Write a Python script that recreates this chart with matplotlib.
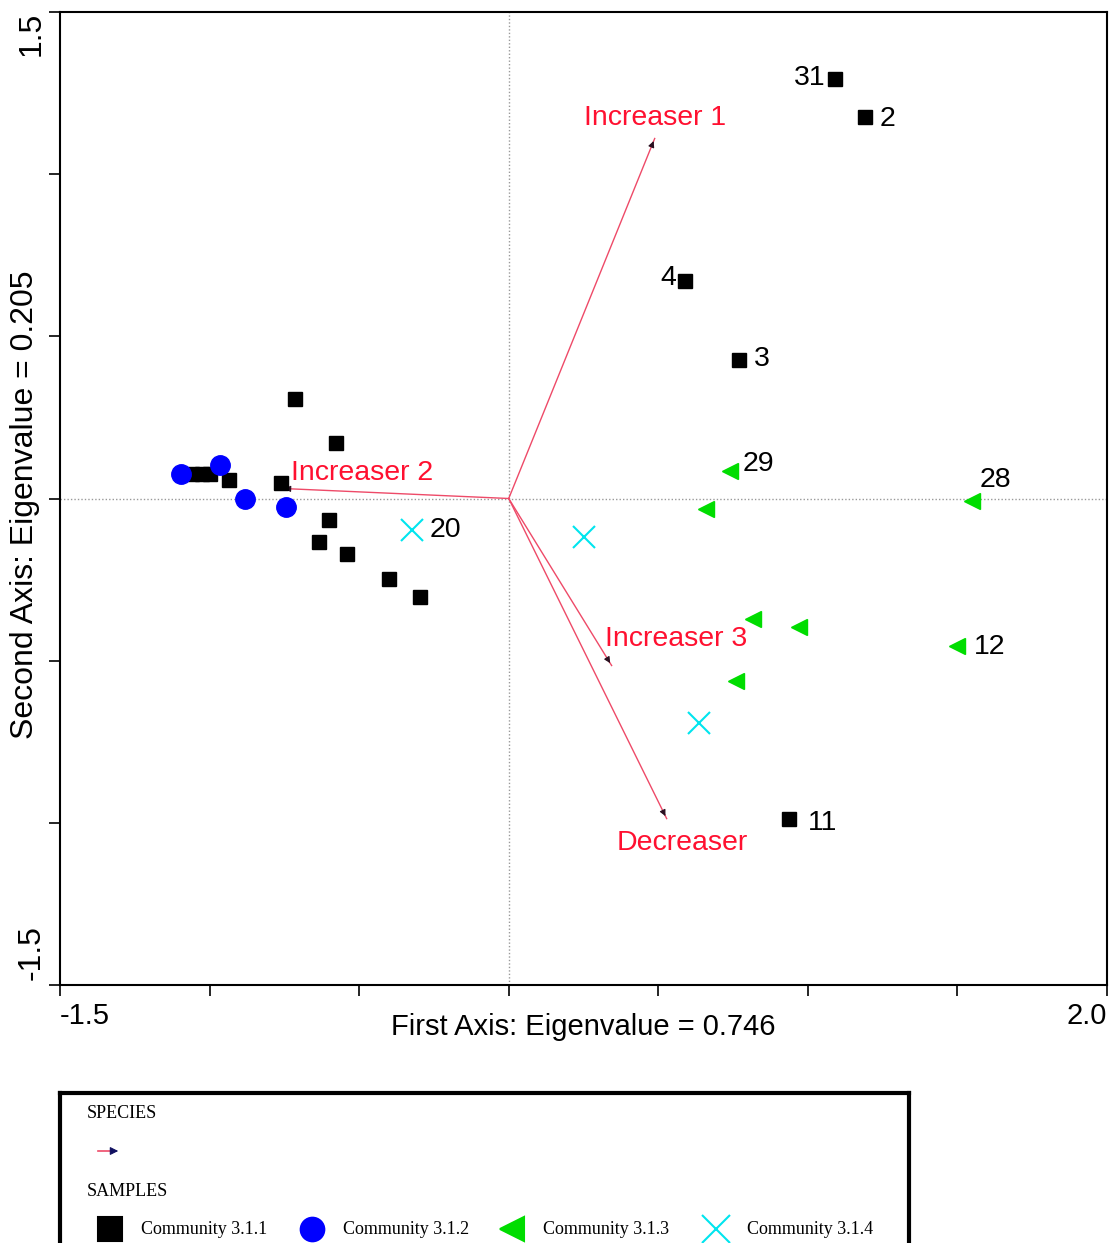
import numpy as np
import matplotlib
matplotlib.use("Agg")
import matplotlib.pyplot as plt

plt.rcParams['font.family'] = ['Liberation Sans', 'DejaVu Sans']

# sample scores (axis 1, axis 2)
c311_x = [1.09, 1.19, 0.588, 0.769, 0.936, -0.716, -0.578, -0.762, -0.936, -1.06, -1.025, -1.0,
          -0.602, -0.635, -0.542, -0.401, -0.298]
c311_y = [1.292, 1.175, 0.672, 0.426, -0.987, 0.308, 0.170, 0.049, 0.056, 0.077, 0.077, 0.077,
          -0.065, -0.133, -0.170, -0.247, -0.305]
c312_x = [-1.097, -0.966, -0.883, -0.746]
c312_y = [0.077, 0.102, 0.0, -0.025]
c313_x = [0.739, 0.659, 1.548, 0.816, 0.970, 1.498, 0.759]
c313_y = [0.086, -0.031, -0.009, -0.370, -0.395, -0.456, -0.564]
c314_x = [-0.324, 0.251, 0.635]
c314_y = [-0.096, -0.120, -0.691]

# sample labels: (text, x, y)
lab_txt = ['31', '2', '4', '3', '29', '28', '20', '12', '11']
lab_x = [1.09, 1.19, 0.588, 0.769, 0.739, 1.548, -0.324, 1.498, 0.936]
lab_y = [1.292, 1.175, 0.672, 0.426, 0.086, -0.009, -0.096, -0.456, -0.987]
lab_dx = [-0.085, 0.077, -0.055, 0.077, 0.097, 0.08, 0.112, 0.11, 0.113]
lab_dy = [0.005, -0.005, 0.007, 0.005, 0.02, 0.065, 0.0, -0.002, -0.015]

# species arrows
sp_names = ['Increaser 1', 'Increaser 2', 'Increaser 3', 'Decreaser']
sp_x = [0.488, -0.759, 0.344, 0.528]
sp_y = [1.110, 0.031, -0.515, -0.987]
sp_lx = [0.488, -0.49, 0.56, 0.58]
sp_ly = [1.172, 0.078, -0.433, -1.062]

fig = plt.figure(figsize=(11.11, 12.43), dpi=100)
ax = fig.add_axes([60/1111, 1-985/1243, 1047/1111, 973/1243])
ax.set_xlim(-1.5, 2.0)
ax.set_ylim(-1.5, 1.5)

ax.axhline(0, color='#999999', ls=(0, (1, 1.5)), lw=1, zorder=1)
ax.axvline(0, color='#999999', ls=(0, (1, 1.5)), lw=1, zorder=1)

for nm, x, y, lx, ly in zip(sp_names, sp_x, sp_y, sp_lx, sp_ly):
    ax.plot([0, x], [0, y], color='#ee4a68', lw=1, zorder=2)
    ax.annotate('', xy=(x, y), xytext=(x - 0.03*x/np.hypot(x, y), y - 0.03*y/np.hypot(x, y)),
                arrowprops=dict(arrowstyle='-|>', color='#2a1020', lw=0.8, mutation_scale=9),
                zorder=3)
    ax.text(lx, ly, nm, color='#ff1030', fontsize=20.5, ha='center', va='center', zorder=4)

ax.plot(c311_x, c311_y, 's', color='black', ms=10, ls='none', zorder=5)
ax.plot(c312_x, c312_y, 'o', color='#0000ff', ms=14, ls='none', zorder=5)
ax.plot(c313_x, c313_y, '<', color='#00dd00', ms=12, ls='none', zorder=5)
ax.plot(c314_x, c314_y, 'x', color='#00e5ee', ms=16, mew=1.5, ls='none', zorder=5)

for t, x, y, dx, dy in zip(lab_txt, lab_x, lab_y, lab_dx, lab_dy):
    ax.text(x + dx, y + dy, t, fontsize=20.5, ha='center', va='center', color='black', zorder=6)

ax.set_xticks(np.arange(-1.5, 2.01, 0.5))
ax.set_yticks(np.arange(-1.5, 1.51, 0.5))
ax.set_xticklabels([])
ax.set_yticklabels([])
ax.tick_params(direction='out', length=8, width=1.2)
for s in ax.spines.values():
    s.set_linewidth(1.5)

fig.text(60/1111, 1-1016/1243, '-1.5', fontsize=21, ha='left', va='center')
fig.text(1107/1111, 1-1016/1243, '2.0', fontsize=21, ha='right', va='center')
fig.text(32/1111, 1-12/1243, '1.5', fontsize=23, ha='center', va='top', rotation=90)
fig.text(32/1111, 1-980/1243, '-1.5', fontsize=23, ha='center', va='bottom', rotation=90)
fig.text(583/1111, 1-1027/1243, 'First Axis: Eigenvalue = 0.746', fontsize=21, ha='center', va='center')
fig.text(25/1111, 1-505/1243, 'Second Axis: Eigenvalue = 0.205', fontsize=23, ha='center', va='center',
         rotation=90)

# legend box
lg = fig.add_axes([60/1111, -0.05, 849/1111, (1243-1093)/1243 + 0.05])
lg.set_xlim(60, 909)
lg.set_ylim(1243 + 0.05*1243, 1093)
lg.set_xticks([])
lg.set_yticks([])
for s in lg.spines.values():
    s.set_linewidth(3)
serif = ['Liberation Serif', 'DejaVu Serif']
lg.text(87, 1114, 'SPECIES', fontsize=13, family=serif, va='center', ha='left')
lg.text(87, 1192, 'SAMPLES', fontsize=13, family=serif, va='center', ha='left')
lg.plot([98, 114], [1151, 1151], color='#ee4a68', lw=1.2)
lg.annotate('', xy=(121, 1151), xytext=(110, 1151),
            arrowprops=dict(arrowstyle='-|>', color='#101060', lw=0.8, mutation_scale=12))
leg_names = ['Community 3.1.1', 'Community 3.1.2', 'Community 3.1.3', 'Community 3.1.4']
leg_mk = ['s', 'o', '<', 'x']
leg_col = ['black', '#0000ff', '#00dd00', '#00e5ee']
leg_ms = [17, 17, 17, 20]
leg_x = [110, 312, 512, 716]
for nm, mk, c, ms, x in zip(leg_names, leg_mk, leg_col, leg_ms, leg_x):
    lg.plot([x], [1229], mk, color=c, ms=ms, mew=1.5)
    lg.text(x + 31, 1230, nm, fontsize=13, family=serif, va='center', ha='left')

fig.savefig('out.png', dpi=100)
